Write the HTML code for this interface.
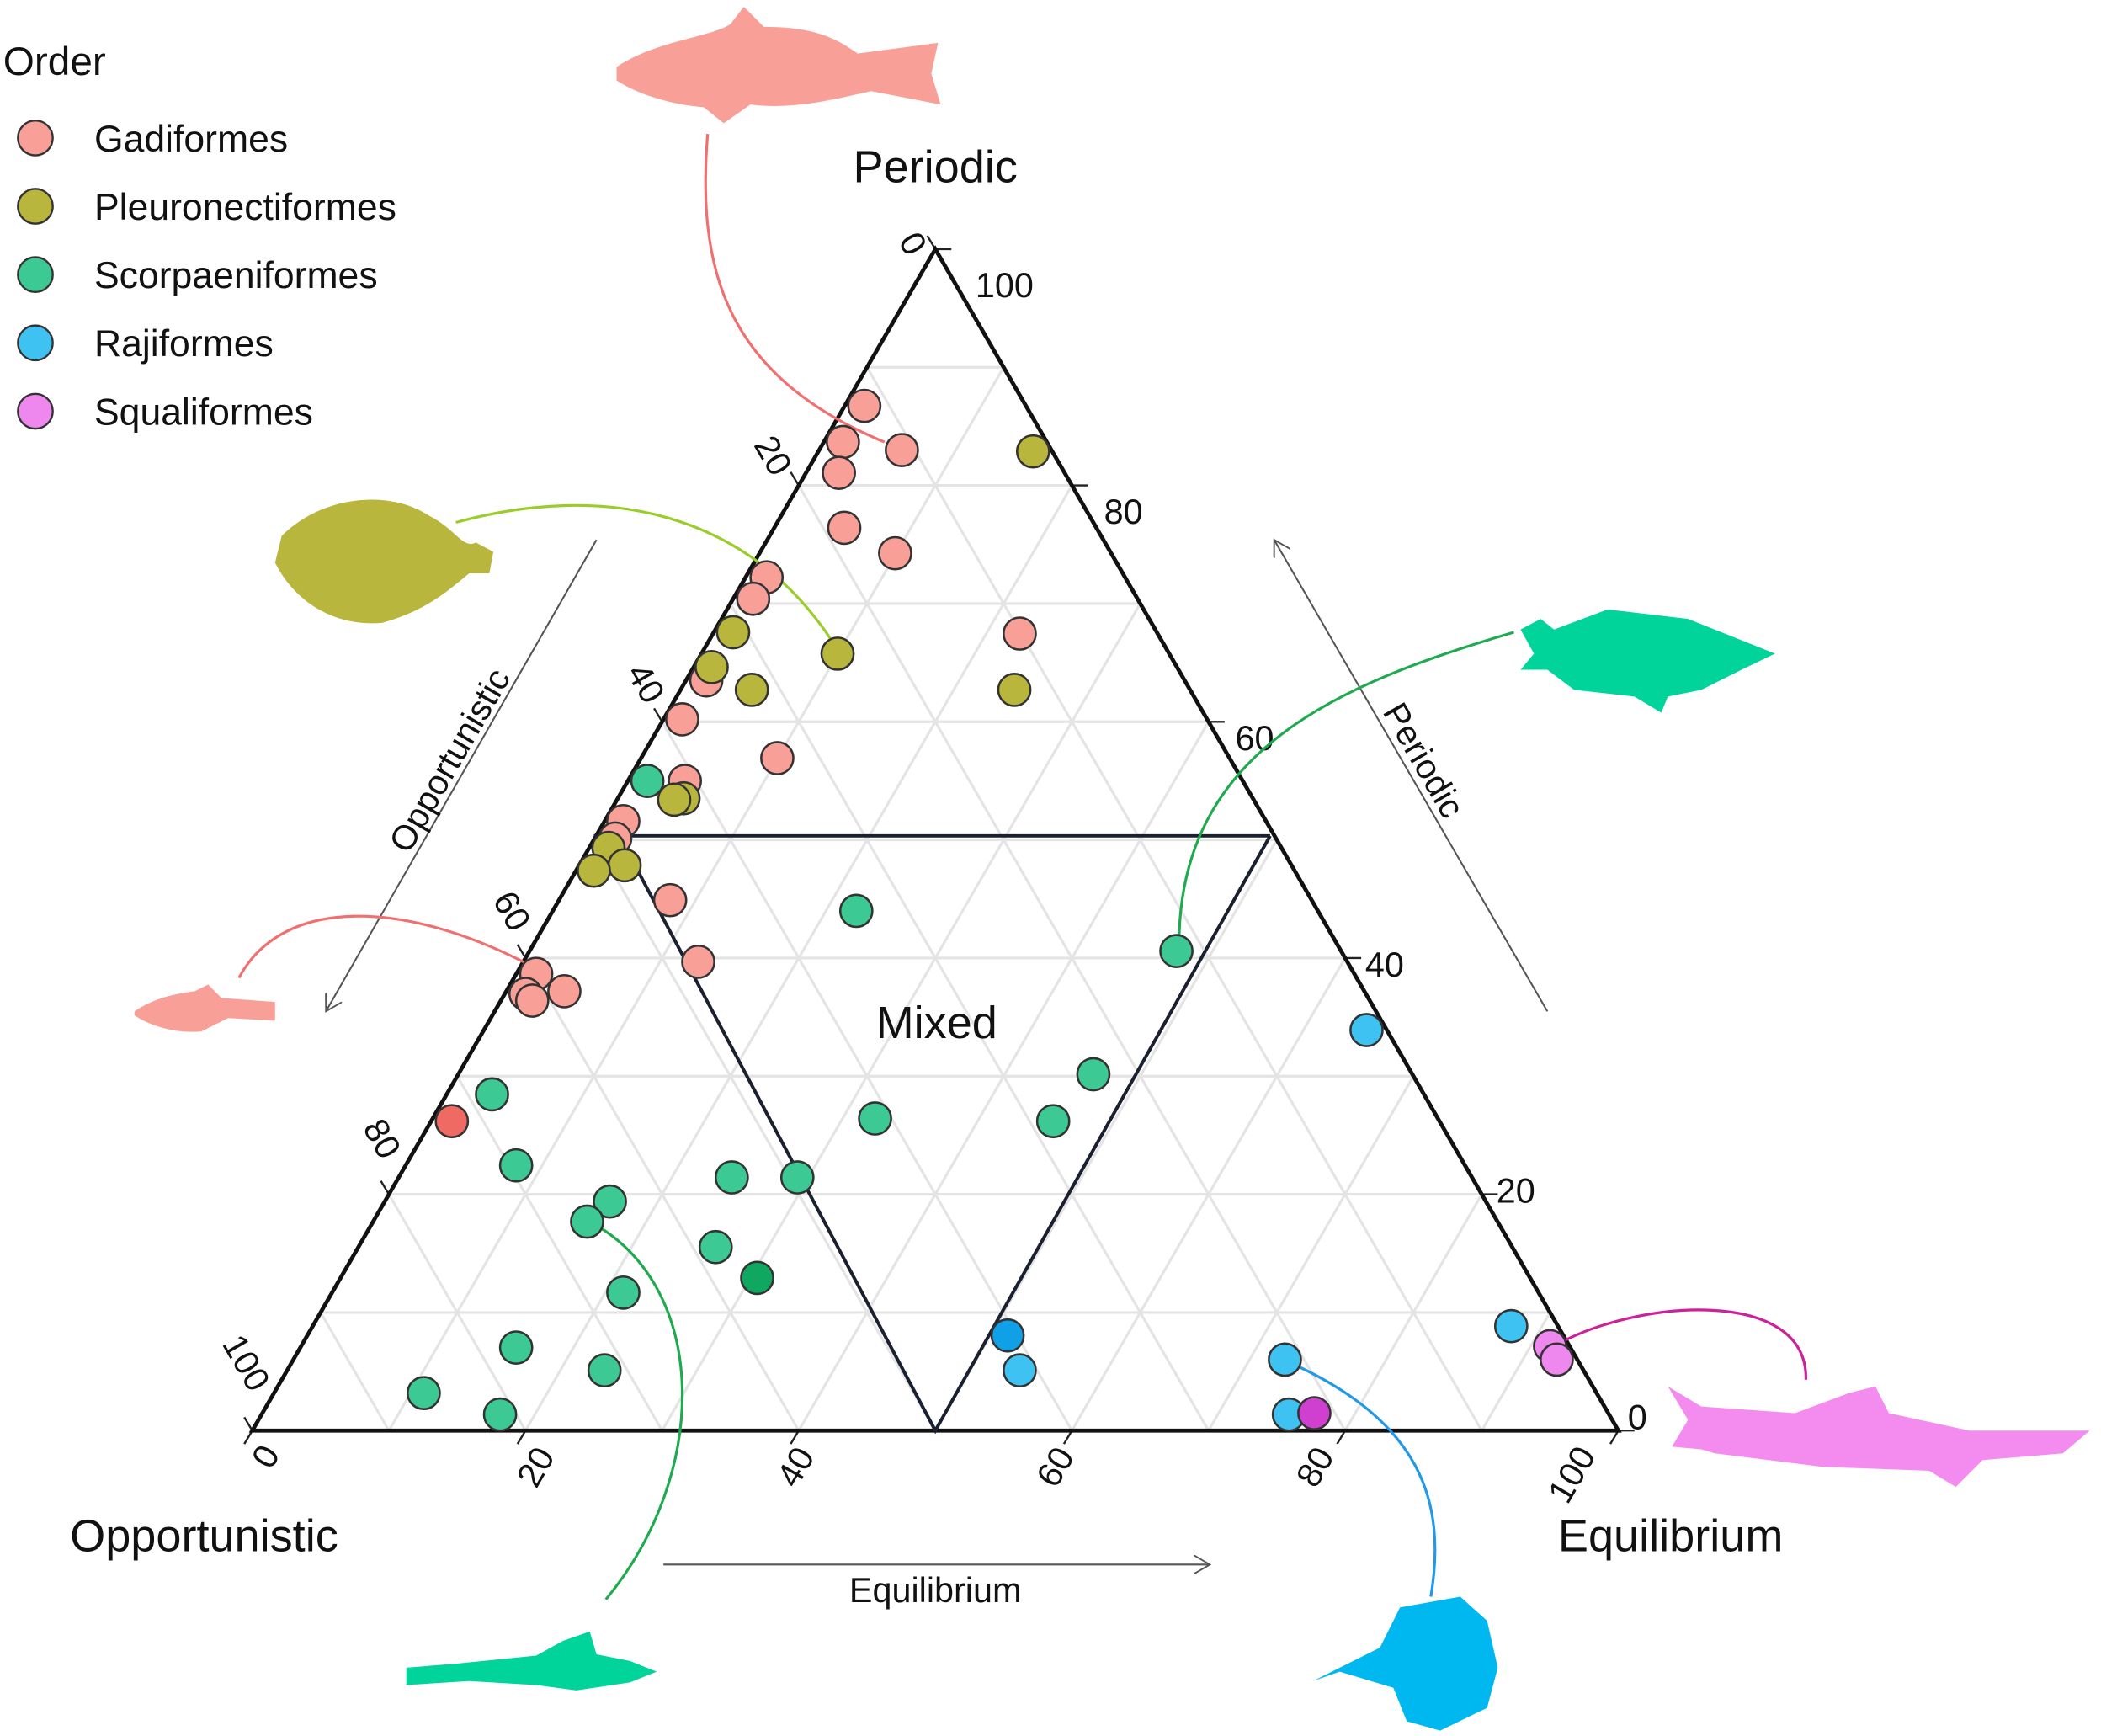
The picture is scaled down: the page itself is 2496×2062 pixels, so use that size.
<!DOCTYPE html>
<html><head><meta charset="utf-8"><style>
html,body{margin:0;padding:0;background:#fff;}
svg{display:block;}
text{font-family:"Liberation Sans",sans-serif;fill:#111;}
</style></head><body>
<svg width="2496" height="2062" viewBox="0 0 1568 1296" xmlns="http://www.w3.org/2000/svg">
<defs>
<marker id="ah" markerWidth="14" markerHeight="14" refX="12" refY="7" orient="auto" markerUnits="userSpaceOnUse">
<path d="M0,0 L12,7 L0,14" fill="none" stroke="#555" stroke-width="1.2"/></marker>
</defs>
<g id="grid" stroke="#e4e4e4" stroke-width="2" fill="none"></g>
<!-- ticks every 20 -->
<g stroke="#222" stroke-width="1.5">
<path d="M698,186 l12,0 M800,362.4 l12,0 M902,538.8 l12,0 M1004,715.2 l12,0 M1106,891.6 l12,0 M1208,1068 l12,0"/>
<path d="M698,186 l-6,-10 M596,362.4 l-6,-10 M494,538.8 l-6,-10 M392,715.2 l-6,-10 M290,891.6 l-6,-10 M188,1068 l-6,-10"/>
<path d="M188,1068 l-6,10 M392,1068 l-6,10 M596,1068 l-6,10 M800,1068 l-6,10 M1004,1068 l-6,10 M1208,1068 l-6,10"/>
</g>
<script>
(function(){
var g=document.getElementById('grid');
var A=[698,186],L=[188,1068],R=[1208,1068];
function p(a,b,t){return [a[0]+(b[0]-a[0])*t,a[1]+(b[1]-a[1])*t];}
var s='';
for(var i=1;i<10;i++){var t=i/10;
var a=p(A,L,t),b=p(A,R,t);s+='M'+a+'L'+b;
var c=p(L,A,t),d=p(L,R,t);s+='M'+c+'L'+d;
var e=p(R,A,t),f=p(R,L,t);s+='M'+e+'L'+f;}
var pa=document.createElementNS('http://www.w3.org/2000/svg','path');pa.setAttribute('d',s);g.appendChild(pa);
})();
</script>
<!-- triangle -->
<path d="M698,186 L188,1068 L1208,1068 Z" fill="none" stroke="#111" stroke-width="3"/>
<!-- mixed -->
<path d="M443,624 L948,624 M462,624 L698,1068 L948,624" fill="none" stroke="#1a2030" stroke-width="2.5"/>
<text x="699" y="775" font-size="34" text-anchor="middle">Mixed</text>
<!-- tick labels -->
<g font-size="26" fill="#222">
<text x="728" y="222">100</text><text x="824" y="391">80</text><text x="922" y="560">60</text><text x="1019" y="729">40</text><text x="1117" y="898">20</text><text x="1215" y="1067">0</text>
<text transform="translate(670,180) rotate(60)">0</text>
<text transform="translate(562,332) rotate(60)">20</text>
<text transform="translate(467,502) rotate(60)">40</text>
<text transform="translate(367,672) rotate(60)">60</text>
<text transform="translate(270,842) rotate(60)">80</text>
<text transform="translate(165,1003) rotate(60)">100</text>
<text transform="translate(202,1098) rotate(-60)">0</text>
<text transform="translate(400,1112) rotate(-60)">20</text>
<text transform="translate(594,1112) rotate(-60)">40</text>
<text transform="translate(788,1112) rotate(-60)">60</text>
<text transform="translate(982,1112) rotate(-60)">80</text>
<text transform="translate(1170,1124) rotate(-60)">100</text>
</g>
<!-- axis arrows -->
<g stroke="#555" stroke-width="1.3" fill="none">
<path d="M445,403 L243,755" marker-end="url(#ah)"/>
<path d="M1155,755 L951,403" marker-end="url(#ah)"/>
<path d="M495,1168 L903,1168" marker-end="url(#ah)"/>
</g>
<g font-size="26" fill="#333">
<text transform="translate(343,572) rotate(-60)" text-anchor="middle">Opportunistic</text>
<text transform="translate(1055,572) rotate(60)" text-anchor="middle">Periodic</text>
<text x="698" y="1196" text-anchor="middle">Equilibrium</text>
</g>
<g font-size="34">
<text x="698" y="136" text-anchor="middle">Periodic</text>
<text x="152" y="1158" text-anchor="middle">Opportunistic</text>
<text x="1247" y="1158" text-anchor="middle">Equilibrium</text>
</g>
<!-- legend -->
<text x="2" y="56" font-size="30">Order</text>
<g stroke="#333" stroke-width="1.5">
<circle cx="26" cy="103" r="13" fill="#F8A098"/>
<circle cx="26" cy="154" r="13" fill="#B8B63C"/>
<circle cx="26" cy="205" r="13" fill="#3CC994"/>
<circle cx="26" cy="256" r="13" fill="#3EC2F2"/>
<circle cx="26" cy="307" r="13" fill="#EE88EE"/>
</g>
<g font-size="28"><text x="70" y="113">Gadiformes</text><text x="70" y="164">Pleuronectiformes</text><text x="70" y="215">Scorpaeniformes</text><text x="70" y="266">Rajiformes</text><text x="70" y="317">Squaliformes</text></g>
<!-- connectors -->
<g fill="none" stroke-width="2">
<path d="M528,100 C520,200 540,280 660,330" stroke="#F07070"/>
<path d="M340,390 C450,360 560,380 625,485" stroke="#9ACC2A"/>
<path d="M1130,472 C1000,510 880,560 880,705" stroke="#20AA50"/>
<path d="M178,730 C210,670 300,670 398,722" stroke="#F07070"/>
<path d="M440,912 C530,960 530,1100 452,1194" stroke="#20AA50"/>
<path d="M960,1016 C1060,1060 1080,1120 1068,1192" stroke="#2299E8"/>
<path d="M1160,1005 C1220,970 1350,960 1348,1030" stroke="#CC2299"/>
</g>
<!-- points -->
<g stroke="#333" stroke-width="1.6" fill="#F8A098">
<circle cx="645" cy="303" r="12"/><circle cx="673" cy="336" r="12"/><circle cx="629" cy="330" r="12"/><circle cx="626" cy="353" r="12"/><circle cx="630" cy="394" r="12"/><circle cx="668" cy="413" r="12"/><circle cx="572" cy="431" r="12"/><circle cx="562" cy="447" r="12"/><circle cx="527" cy="508" r="12"/><circle cx="509" cy="537" r="12"/><circle cx="580" cy="566" r="12"/><circle cx="511" cy="583" r="12"/><circle cx="465" cy="613" r="12"/><circle cx="459" cy="626" r="12"/><circle cx="500" cy="672" r="12"/><circle cx="521" cy="718" r="12"/><circle cx="400" cy="727" r="12"/><circle cx="392" cy="742" r="12"/><circle cx="397" cy="747" r="12"/><circle cx="421" cy="740" r="12"/><circle cx="337" cy="837" r="12" fill="#EE6A62"/><circle cx="761" cy="473" r="12"/>
</g>
<g stroke="#333" stroke-width="1.6" fill="#B8B63C">
<circle cx="771" cy="337" r="12"/><circle cx="547" cy="472" r="12"/><circle cx="625" cy="488" r="12"/><circle cx="531" cy="498" r="12"/><circle cx="561" cy="515" r="12"/><circle cx="757" cy="515" r="12"/><circle cx="510" cy="596" r="12"/><circle cx="503" cy="597" r="12"/><circle cx="454" cy="633" r="12"/><circle cx="466" cy="646" r="12"/><circle cx="443" cy="650" r="12"/>
</g>
<g stroke="#333" stroke-width="1.6" fill="#3CC994">
<circle cx="483" cy="583" r="12"/><circle cx="639" cy="680" r="12"/><circle cx="878" cy="710" r="12"/><circle cx="816" cy="802" r="12"/><circle cx="653" cy="835" r="12"/><circle cx="786" cy="837" r="12"/><circle cx="367" cy="817" r="12"/><circle cx="385" cy="870" r="12"/><circle cx="546" cy="879" r="12"/><circle cx="595" cy="879" r="12"/><circle cx="455" cy="897" r="12"/><circle cx="438" cy="912" r="12"/><circle cx="534" cy="931" r="12"/><circle cx="565" cy="954" r="12" fill="#10A860"/><circle cx="465" cy="965" r="12"/><circle cx="385" cy="1006" r="12"/><circle cx="451" cy="1023" r="12"/><circle cx="316" cy="1040" r="12"/><circle cx="373" cy="1056" r="12"/>
</g>
<g stroke="#333" stroke-width="1.6" fill="#3EC2F2">
<circle cx="1020" cy="769" r="12"/><circle cx="752" cy="997" r="12" fill="#10A0E8"/><circle cx="761" cy="1023" r="12"/><circle cx="1128" cy="990" r="12"/><circle cx="959" cy="1015" r="12"/><circle cx="962" cy="1056" r="12"/>
</g>
<g stroke="#333" stroke-width="1.6" fill="#EE88EE">
<circle cx="1157" cy="1005" r="12"/><circle cx="1162" cy="1015" r="12"/><circle cx="981" cy="1055" r="12" fill="#D040D0"/>
</g>
<!-- fish silhouettes -->
<g fill="#F8A098">
<path d="M460,50 C490,30 530,28 545,18 L555,5 L570,20 C600,20 620,25 640,40 L700,32 L695,55 L702,78 L650,68 C620,75 590,82 560,78 L540,92 L525,80 C500,78 475,70 460,60 Z"/>
<path d="M100,755 C115,745 130,742 145,740 L155,735 L165,745 L205,748 L205,762 L170,760 L150,770 C130,772 110,765 100,758 Z"/>
</g>
<path fill="#B8B63C" d="M210,400 C240,370 290,365 320,385 C340,395 345,410 355,405 L368,412 L365,428 L350,428 C335,440 320,455 285,465 C250,468 220,450 205,420 Z"/>
<path fill="#00D49A" d="M1135,470 L1150,462 L1160,470 L1200,455 L1260,462 L1300,478 L1325,488 L1300,500 L1270,515 L1245,520 L1240,532 L1220,520 L1175,515 L1155,500 L1135,500 L1145,488 Z"/>
<path fill="#00D49A" d="M303,1245 L340,1242 L400,1236 L420,1225 L440,1218 L445,1235 L470,1240 L490,1248 L470,1256 L430,1262 L400,1258 L350,1255 L303,1258 Z"/>
<path fill="#00B8F0" d="M1045,1200 L1090,1192 L1110,1210 L1118,1245 L1110,1275 L1075,1292 L1050,1285 L1040,1260 L1000,1248 L980,1255 L1030,1230 Z"/>
<path fill="#F48CF0" d="M1245,1035 L1270,1050 L1340,1055 L1380,1040 L1400,1035 L1410,1055 L1470,1068 L1560,1068 L1540,1085 L1480,1090 L1460,1110 L1440,1098 L1360,1095 L1320,1090 L1280,1085 L1270,1082 L1248,1080 L1260,1060 Z"/>
</svg>
</body></html>
